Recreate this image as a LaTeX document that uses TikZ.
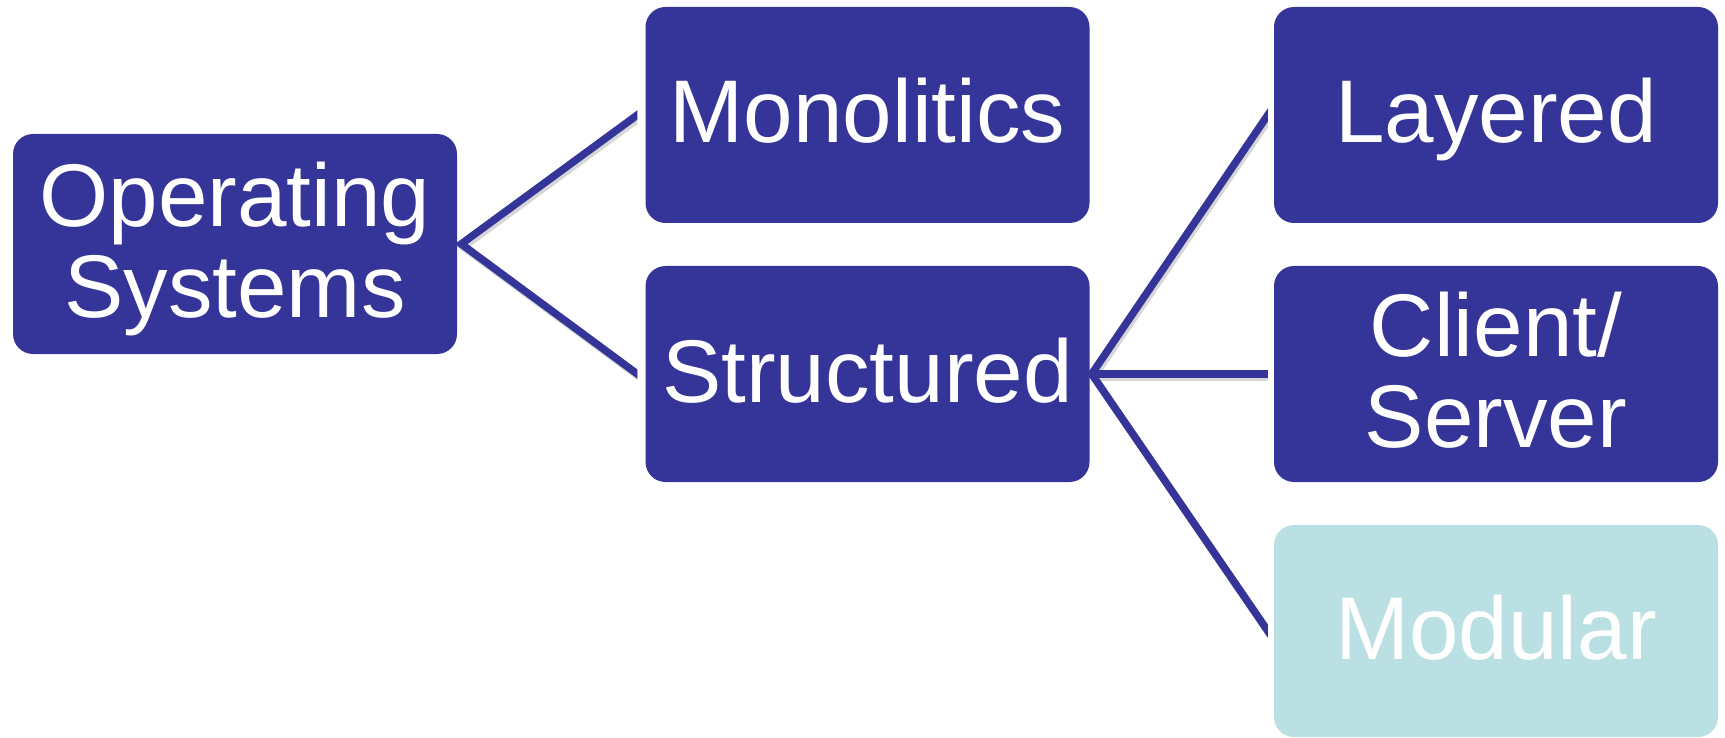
\documentclass[tikz,border=0pt]{standalone}
\usepackage{fontspec}
\setmainfont{Liberation Sans}
\usetikzlibrary{calc,backgrounds}

\definecolor{ink}{RGB}{53,52,152}
\definecolor{mint}{RGB}{187,224,227}

\tikzset{
  box/.style={rectangle, rounded corners=20pt, fill=ink, text=white,
    minimum width=444pt, minimum height=216pt, inner sep=0pt,
    font=\fontsize{89}{91}\selectfont},
  oneline/.style={text height=70pt, text depth=14pt},
  twoline/.style={text height=70pt, text depth=105pt},
  faded/.style={fill=mint},
  link/.style={draw=ink, line width=7.5pt, line join=miter},
  linkshade/.style={draw=black, opacity=0.16, line width=7.5pt, line join=miter},
}

\newcommand{\twolines}[2]{\begin{tabular}[t]{@{}c@{}}#1\\#2\end{tabular}}

\begin{document}
\begin{tikzpicture}[x=1pt, y=-1pt]
  \useasboundingbox (0,0) rectangle (1725,738);

  % root and first level
  \node[box, twoline, minimum height=220pt] (os) at (235,244) {\twolines{Operating}{Systems}};
  \node[box, oneline] (mono)   at (867.5,115) {Monolitics};
  \node[box, oneline] (struct) at (867.5,374) {Structured};

  % second level
  \node[box, oneline] (layer)  at (1496,115) {Layered};
  \node[box, twoline] (client) at (1496,374) {\twolines{Client/}{Server}};
  \node[box, oneline, faded, minimum height=212pt] (modular) at (1496,631) {Modular};

  % connector end points
  \coordinate (j1) at ([xshift=4pt]os.east);
  \coordinate (m1) at ([xshift=-8pt]mono.west);
  \coordinate (s1) at ([xshift=-8pt]struct.west);
  \coordinate (j2) at ([xshift=2pt]struct.east);
  \coordinate (l2) at ([xshift=-6pt]layer.west);
  \coordinate (c2) at ([xshift=-6pt]client.west);
  \coordinate (d2) at ([xshift=-6pt]modular.west);

  \begin{scope}[on background layer]
    % left fan
    \begin{scope}
      \clip ([xshift=-20pt]j1 |- 0,0) rectangle (m1 |- 0,738);
      \draw[linkshade] ([shift={(2,3)}]$(j1)!1.1!(m1)$) -- ([shift={(2,3)}]j1) -- ([shift={(2,3)}]$(j1)!1.1!(s1)$);
      \draw[link] ($(j1)!1.1!(m1)$) -- (j1) -- ($(j1)!1.1!(s1)$);
    \end{scope}

    % right fan
    \begin{scope}
      \clip ([xshift=-20pt]j2 |- 0,0) rectangle (l2 |- 0,738);
      \draw[linkshade] ([shift={(2,3)}]$(j2)!1.1!(l2)$) -- ([shift={(2,3)}]j2) -- ([shift={(2,3)}]$(j2)!1.1!(d2)$);
      \draw[linkshade] ([shift={(2,3)}]j2) -- ([shift={(2,3)}]$(j2)!1.1!(c2)$);
      \draw[link] ($(j2)!1.1!(l2)$) -- (j2) -- ($(j2)!1.1!(d2)$);
      \draw[link] (j2) -- ($(j2)!1.1!(c2)$);
    \end{scope}
  \end{scope}
\end{tikzpicture}
\end{document}
